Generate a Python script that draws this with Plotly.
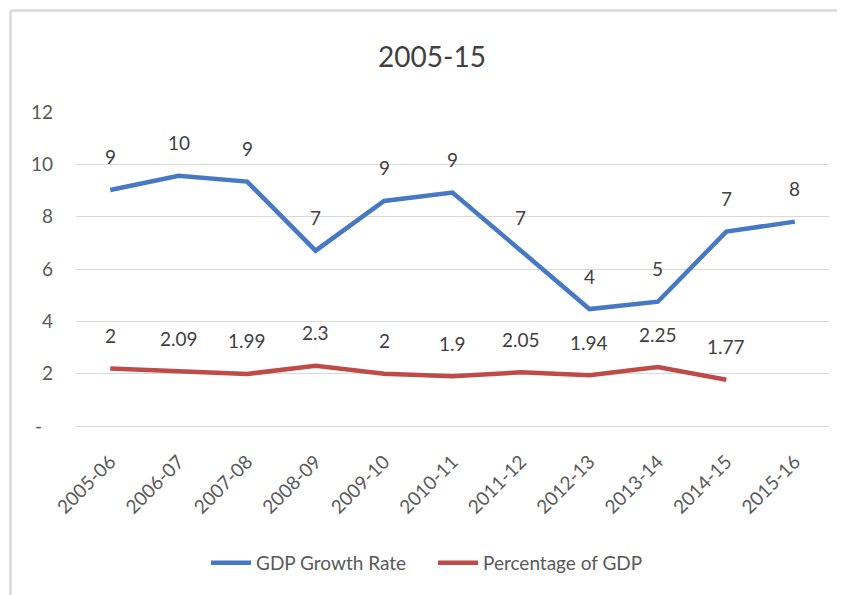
import plotly.graph_objects as go

# data
years = ["2005-06", "2006-07", "2007-08", "2008-09", "2009-10", "2010-11",
         "2011-12", "2012-13", "2013-14", "2014-15", "2015-16"]
gdp_growth = [9.02, 9.56, 9.34, 6.70, 8.60, 8.92, 6.70, 4.47, 4.75, 7.43, 7.81]
gdp_growth_labels = ["9", "10", "9", "7", "9", "9", "7", "4", "5", "7", "8"]
pct_of_gdp = [2.2, 2.09, 1.99, 2.3, 2.0, 1.9, 2.05, 1.94, 2.25, 1.77]
pct_of_gdp_labels = ["2", "2.09", "1.99", "2.3", "2", "1.9", "2.05", "1.94", "2.25", "1.77"]
y_ticks = [0, 2, 4, 6, 8, 10, 12]
y_tick_text = ["-\u2007", "2", "4", "6", "8", "10", "12"]

FONT = "Lato, 'Open Sans', sans-serif"
BLUE = "#4678C3"
RED = "#BE4B48"

# the page body adds an 8px offset, so the figure is drawn 8px smaller
OFF = 8
W, H = 845 - OFF, 595 - OFF
L, R, T, B = 76 - OFF, 16, 112 - OFF, 169

fig = go.Figure()
fig.add_trace(go.Scatter(x=years, y=gdp_growth, mode="lines", name="GDP Growth Rate",
                         line=dict(color=BLUE, width=4.5)))
fig.add_trace(go.Scatter(x=years[:len(pct_of_gdp)], y=pct_of_gdp, mode="lines",
                         name="Percentage of GDP", line=dict(color=RED, width=4.5)))

# data labels sit about 33px above each point, like Excel
for xs, ys, labels in [(years, gdp_growth, gdp_growth_labels),
                       (years, pct_of_gdp, pct_of_gdp_labels)]:
    for x, y, t in zip(xs, ys, labels):
        fig.add_annotation(x=x, y=y, text=t, showarrow=False, yshift=33,
                           yanchor="middle", font=dict(family=FONT, size=19, color="#404040"))

# outer chart frame (only left and top edges are visible in the crop)
pw, ph = W - L - R, H - T - B
def px_x(p):
    return (p - OFF - L) / pw
def px_y(p):
    return (H - B - (p - OFF)) / ph
frame = dict(color="#D9D9D9", width=2.5)
fig.add_shape(type="line", xref="paper", yref="paper", x0=px_x(10.5), x1=px_x(845),
              y0=px_y(10.5), y1=px_y(10.5), line=frame)
fig.add_shape(type="line", xref="paper", yref="paper", x0=px_x(10.5), x1=px_x(10.5),
              y0=px_y(10.5), y1=px_y(595), line=frame)

fig.update_layout(
    width=W, height=H,
    margin=dict(l=L, r=R, t=T, b=B),
    paper_bgcolor="white", plot_bgcolor="white",
    font=dict(family=FONT, color="#595959"),
    title=dict(text="2005-15", x=(432 - OFF) / W, xref="container", xanchor="center",
               y=1 - (57 - OFF) / H, yref="container", yanchor="middle",
               font=dict(family=FONT, size=28, color="#404040")),
    showlegend=True,
    legend=dict(orientation="h", xref="container", yref="container",
                x=(206 - OFF) / W, xanchor="left", y=1 - (563 - OFF) / H, yanchor="middle",
                font=dict(family=FONT, size=19, color="#595959"),
                itemwidth=40, entrywidth=172, tracegroupgap=0),
    xaxis=dict(type="category", range=[-0.5, 10.5], showgrid=False, showline=False,
               zeroline=False, tickangle=-45, tickfont=dict(family=FONT, size=19, color="#595959"),
               ticks="", ticklabelstandoff=20),
    yaxis=dict(range=[0, 12], tickvals=y_ticks, ticktext=y_tick_text, showgrid=True,
               gridcolor="#D9D9D9", gridwidth=1.3, zeroline=True, zerolinecolor="#D9D9D9",
               zerolinewidth=1.3, showline=False, ticks="", ticklabelstandoff=22,
               tickfont=dict(family=FONT, size=19, color="#595959")),
)

fig.write_html("out.html")
